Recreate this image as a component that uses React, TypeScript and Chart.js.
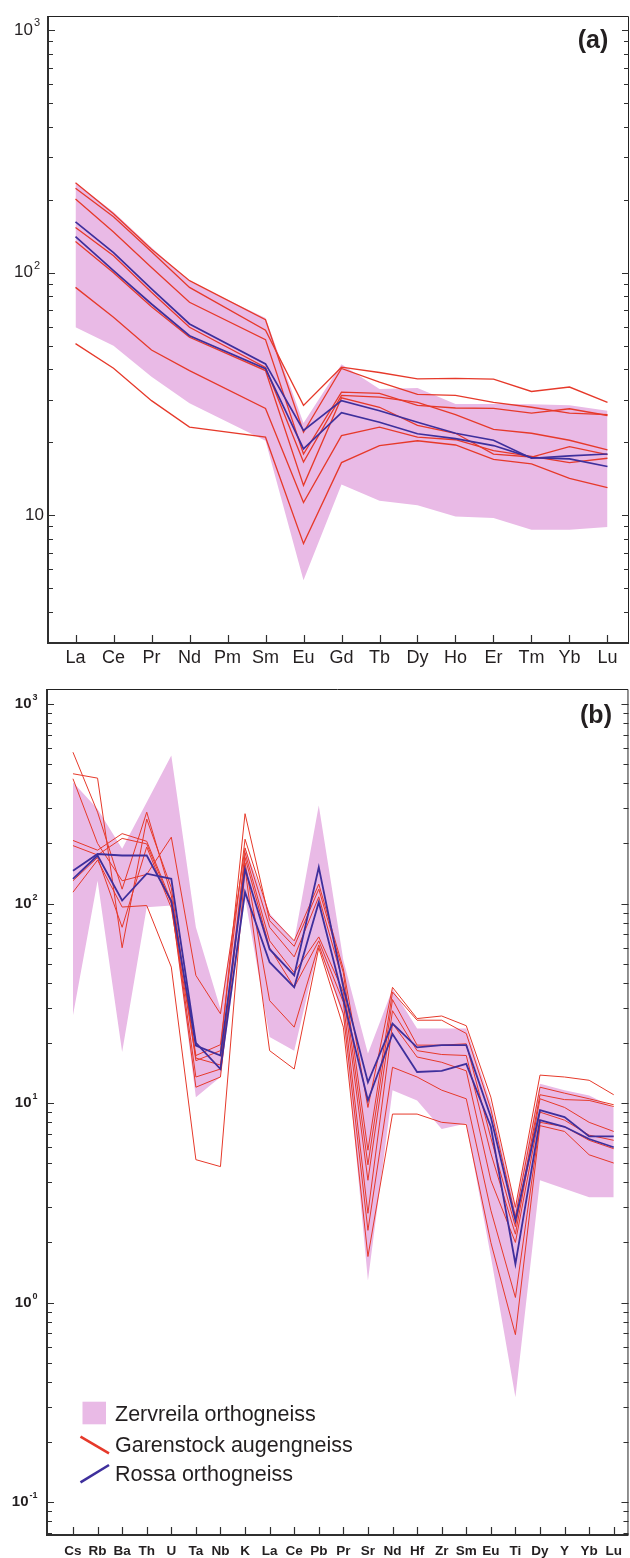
import React, { useEffect, useRef } from 'react';
import { Chart, registerables } from 'chart.js';

Chart.register(...registerables);

// ---------------- Panel (a): chondrite-normalised REE ----------------
const REE_ELEMENTS = ['La', 'Ce', 'Pr', 'Nd', 'Pm', 'Sm', 'Eu', 'Gd', 'Tb', 'Dy', 'Ho', 'Er', 'Tm', 'Yb', 'Lu'];
const REE_ZERVREILA_MAX = [235, 178, 127, 92, null, 65, 24, 42, 33.2, 33.5, 28.8, 28.8, 28.7, 28.4, 27.0];
const REE_ZERVREILA_MIN = [59.6, 50, 37.3, 29, null, 20.3, 5.4, 13.4, 11.5, 11.0, 9.9, 9.75, 8.73, 8.73, 8.95];
const REE_GARENSTOCK_1 = [235, 175, 125, 92.7, null, 64, 22, 40.3, 35.4, 31.5, 31.2, 29.2, 27.9, 26.4, 26.0];
const REE_GARENSTOCK_2 = [223, 170, 122, 87, null, 58, 28.4, 40.8, 38.8, 36.5, 36.7, 36.4, 32.4, 33.8, 29.2];
const REE_GARENSTOCK_3 = [201, 147, 105, 75.5, null, 53, 17.9, 32.2, 31.8, 28.4, 27.7, 27.6, 26.4, 27.5, 25.8];
const REE_GARENSTOCK_4 = [153.6, 117.5, 83, 59.6, null, 40.7, 16.6, 31.2, 30.7, 29.2, 26.0, 22.6, 21.8, 20.4, 18.6];
const REE_GARENSTOCK_5 = [134.5, 100, 72.4, 54.2, null, 39.5, 13.3, 30.5, 27.9, 23.5, 21.8, 17.9, 17.4, 19.2, 17.8];
const REE_GARENSTOCK_6 = [87, 65.5, 48, 39.5, null, 27.6, 11.3, 21.3, 23.1, 21.0, 20.5, 18.5, 17.5, 16.5, 17.2];
const REE_GARENSTOCK_7 = [51, 40.4, 29.7, 23.1, null, 21, 7.65, 16.5, 19.4, 20.3, 19.5, 17.0, 16.3, 14.2, 13.0];
const REE_ROSSA_1 = [162, 121, 85.7, 61.5, null, 42.1, 22.4, 29.7, 27.0, 24.2, 21.8, 20.4, 17.2, 17.6, 17.9];
const REE_ROSSA_2 = [140.7, 102, 74.3, 55, null, 40.2, 18.8, 26.5, 24.2, 21.7, 20.7, 19.4, 17.3, 17.1, 15.9];
const REE_Y_EXPONENTS = [1, 2, 3];

// ---------------- Panel (b): primitive-mantle-normalised spider ----------------
const SPIDER_ELEMENTS = ['Cs', 'Rb', 'Ba', 'Th', 'U', 'Ta', 'Nb', 'K', 'La', 'Ce', 'Pb', 'Pr', 'Sr', 'Nd', 'Hf', 'Zr', 'Sm', 'Eu', 'Ti', 'Dy', 'Y', 'Yb', 'Lu'];
const SPIDER_ZERVREILA_MAX = [405, 298, 188, 322, 552, 76, 29.6, 191, 89, 65, 310, 52, 17.7, 37.3, 23.6, 23.6, 23.6, 10.0, 3.0, 12.5, 11.6, 10.9, 9.5];
const SPIDER_ZERVREILA_MIN = [27.5, 130, 18.0, 95.7, 97.7, 10.7, 13.5, 107, 21.4, 18.3, 61, 27, 1.29, 11.6, 10.3, 7.4, 7.9, 1.7, 0.335, 4.1, 3.72, 3.37, 3.37];
const SPIDER_GARENSTOCK_1 = [573, 287, 118, 287, 110, 17.3, 19.6, 210, 87, 65, 125, 47, 9.5, 38, 26.5, 27.3, 24.4, 10.7, 3.0, 13.8, 13.5, 13.0, 11.0];
const SPIDER_GARENSTOCK_2 = [447, 425, 60, 265, 120, 16.3, 18.3, 282, 82, 61, 118, 45, 5.8, 36, 26, 26, 22.3, 9.3, 2.7, 12.0, 11.2, 10.5, 9.8];
const SPIDER_GARENSTOCK_3 = [422, 200, 130, 140, 215, 43.6, 28, 190, 76, 54, 108, 40, 4.9, 33, 19.5, 19.5, 19.8, 6.7, 2.4, 11.0, 10.4, 10.3, 9.6];
const SPIDER_GARENSTOCK_4 = [207, 185, 224, 205, 103, 13.5, 14.8, 180, 65, 45, 68, 36, 4.1, 29, 18.3, 17.5, 17.3, 5.6, 2.2, 10.5, 9.5, 8.0, 7.2];
const SPIDER_GARENSTOCK_5 = [195, 175, 212, 199, 100, 12.0, 13.5, 170, 60, 38, 65, 32, 2.8, 25, 17, 16, 14.5, 4.1, 2.0, 9.0, 8.2, 6.9, 6.5];
const SPIDER_GARENSTOCK_6 = [130, 170, 76, 192, 95, 16.8, 15.5, 160, 32.6, 24, 62, 28, 2.3, 15.1, 13.5, 11.6, 10.5, 2.9, 1.06, 8.0, 7.6, 6.5, 5.9];
const SPIDER_GARENSTOCK_7 = [114, 165, 96, 97.7, 48, 5.2, 4.8, 150, 18.3, 14.8, 60, 24, 1.7, 8.8, 8.8, 8.0, 7.8, 2.0, 0.69, 7.7, 7.2, 5.5, 5.0];
const SPIDER_ROSSA_1 = [146, 177, 174, 174, 103, 19.4, 17.3, 149, 59, 43.6, 152, 38, 12.7, 25, 19, 19.5, 19.5, 8.5, 2.58, 9.2, 8.5, 6.8, 6.8];
const SPIDER_ROSSA_2 = [133, 174, 103.5, 141, 133, 20, 14.8, 114, 50.8, 38, 101.5, 33, 10.3, 22.2, 14.3, 14.5, 15.7, 7.6, 1.56, 8.2, 7.6, 6.6, 6.0];
const SPIDER_Y_EXPONENTS = [-1, 0, 1, 2, 3];

const LEGEND_LABELS = ['Zervreila orthogneiss', 'Garenstock augengneiss', 'Rossa orthogneiss'];

const PINK = '#E9BAE6';
const RED = '#E6392A';
const BLUE = '#3E2F9C';
const INK = '#231F20';
const FONT = '"Liberation Sans", Arial, Helvetica, sans-serif';

type Val = number | null;

function toPoints(values: Val[]) {
  const pts: { x: number; y: number }[] = [];
  values.forEach((v, i) => {
    if (v !== null && v !== undefined) pts.push({ x: i, y: v });
  });
  return pts;
}

function buildDatasets(envMax: Val[], envMin: Val[], reds: Val[][], blues: Val[][], redW: number, blueW: number) {
  const ds: any[] = [];
  blues.forEach((b) =>
    ds.push({ data: toPoints(b), borderColor: BLUE, borderWidth: blueW, pointRadius: 0, fill: false, tension: 0, order: 0 })
  );
  reds.forEach((r) =>
    ds.push({ data: toPoints(r), borderColor: RED, borderWidth: redW, pointRadius: 0, fill: false, tension: 0, order: 1 })
  );
  ds.push({
    data: toPoints(envMax),
    borderWidth: 0,
    borderColor: 'rgba(0,0,0,0)',
    backgroundColor: PINK,
    fill: '+1',
    pointRadius: 0,
    tension: 0,
    order: 5,
  });
  ds.push({
    data: toPoints(envMin),
    borderWidth: 0,
    borderColor: 'rgba(0,0,0,0)',
    fill: false,
    pointRadius: 0,
    tension: 0,
    order: 5,
  });
  return ds;
}

type PanelCfg = {
  id: string;
  width: number;
  height: number;
  elements: string[];
  datasets: any[];
  xMin: number;
  xMax: number;
  yMin: number;
  yMax: number;
  padTop: number;
  padRight: number;
  yAxisWidth: number;
  xAxisHeight: number;
  xFont: any;
  xPad: number;
  exps: number[];
  plainOne: boolean;
  baseFont: string;
  expFont: string;
  raise: number;
  yLabelRight: number;
  plainRight: number;
  tag: string;
  tagFont: string;
  tagX: number;
  tagY: number;
  legend: boolean;
};

function makePlugin(cfg: PanelCfg) {
  return {
    id: 'frame_' + cfg.id,
    afterDraw(chart: any) {
      const ctx: CanvasRenderingContext2D = chart.ctx;
      const { left, right, top, bottom } = chart.chartArea;
      const xs = chart.scales.x;
      const ys = chart.scales.y;
      ctx.save();
      // frame
      ctx.strokeStyle = '#2f2f2f';
      ctx.lineWidth = 2;
      ctx.beginPath();
      ctx.moveTo(left, top);
      ctx.lineTo(left, bottom);
      ctx.lineTo(right, bottom);
      ctx.stroke();
      ctx.lineWidth = 1;
      ctx.strokeStyle = '#222';
      ctx.beginPath();
      ctx.moveTo(left, top + 0.5);
      ctx.lineTo(right - 0.5, top + 0.5);
      ctx.lineTo(right - 0.5, bottom);
      ctx.stroke();
      // y ticks (inward, both sides)
      ctx.lineWidth = 1.2;
      ctx.strokeStyle = '#2f2f2f';
      ctx.beginPath();
      const lo = Math.floor(Math.log10(ys.min));
      const hi = Math.ceil(Math.log10(ys.max));
      for (let e = lo; e <= hi; e++) {
        for (let k = 1; k <= 9; k++) {
          const v = k * Math.pow(10, e);
          if (v < ys.min || v > ys.max) continue;
          const y = Math.round(ys.getPixelForValue(v)) + 0.5;
          const len = k === 1 ? 7 : 5;
          ctx.moveTo(left, y);
          ctx.lineTo(left + len, y);
          ctx.moveTo(right, y);
          ctx.lineTo(right - len, y);
        }
      }
      ctx.stroke();
      // x ticks (inward)
      ctx.beginPath();
      cfg.elements.forEach((_, i) => {
        const x = Math.round(xs.getPixelForValue(i)) + 0.5;
        ctx.moveTo(x, bottom);
        ctx.lineTo(x, bottom - 8);
      });
      ctx.stroke();
      // y labels 10^n
      ctx.fillStyle = INK;
      ctx.textBaseline = 'middle';
      ctx.textAlign = 'left';
      cfg.exps.forEach((e) => {
        const y = ys.getPixelForValue(Math.pow(10, e));
        const exp = e === 1 && cfg.plainOne ? '' : String(e);
        ctx.font = cfg.expFont;
        const we = exp ? ctx.measureText(exp).width : 0;
        ctx.font = cfg.baseFont;
        const wb = ctx.measureText('10').width;
        const xr = exp ? cfg.yLabelRight : cfg.plainRight;
        ctx.fillText('10', xr - we - wb - (exp ? 1 : 0), y);
        if (exp) {
          ctx.font = cfg.expFont;
          ctx.fillText(exp, xr - we, y - cfg.raise);
        }
      });
      // panel tag
      ctx.font = cfg.tagFont;
      ctx.textAlign = 'center';
      ctx.fillText(cfg.tag, cfg.tagX, cfg.tagY);
      // legend
      if (cfg.legend) {
        ctx.fillStyle = PINK;
        ctx.fillRect(82.5, 731.7, 23.5, 22.6);
        ctx.lineWidth = 2.6;
        ctx.lineCap = 'butt';
        ctx.strokeStyle = RED;
        ctx.beginPath();
        ctx.moveTo(80.5, 766.7);
        ctx.lineTo(109, 783.3);
        ctx.stroke();
        ctx.strokeStyle = BLUE;
        ctx.beginPath();
        ctx.moveTo(80.5, 812.3);
        ctx.lineTo(109, 795);
        ctx.stroke();
        ctx.fillStyle = INK;
        ctx.font = '21.5px ' + FONT;
        ctx.textAlign = 'left';
        ctx.textBaseline = 'alphabetic';
        ctx.fillText(LEGEND_LABELS[0], 115, 750.7);
        ctx.fillText(LEGEND_LABELS[1], 115, 781.7);
        ctx.fillText(LEGEND_LABELS[2], 115, 810.7);
      }
      ctx.restore();
    },
  };
}

function Panel({ cfg, top }: { cfg: PanelCfg; top: number }) {
  const ref = useRef<HTMLCanvasElement | null>(null);
  useEffect(() => {
    if (!ref.current) return;
    const chart = new Chart(ref.current, {
      type: 'line',
      data: { datasets: cfg.datasets },
      options: {
        animation: false,
        responsive: false,
        events: [],
        layout: { padding: { top: cfg.padTop, right: cfg.padRight, left: 0, bottom: 0 } },
        plugins: { legend: { display: false }, tooltip: { enabled: false } },
        scales: {
          x: {
            type: 'linear',
            min: cfg.xMin,
            max: cfg.xMax,
            grid: { display: false, drawTicks: false },
            border: { display: false },
            afterBuildTicks: (scale: any) => {
              scale.ticks = cfg.elements.map((_, i) => ({ value: i }));
            },
            afterFit: (scale: any) => {
              scale.height = cfg.xAxisHeight;
            },
            ticks: {
              autoSkip: false,
              maxRotation: 0,
              minRotation: 0,
              padding: cfg.xPad,
              color: INK,
              font: cfg.xFont,
              callback: (v: any) => (Number.isInteger(v) ? cfg.elements[v] ?? '' : ''),
            },
          },
          y: {
            type: 'logarithmic',
            min: cfg.yMin,
            max: cfg.yMax,
            grid: { display: false, drawTicks: false },
            border: { display: false },
            ticks: { display: false },
            afterFit: (scale: any) => {
              scale.width = cfg.yAxisWidth;
            },
          },
        },
      } as any,
      plugins: [makePlugin(cfg)],
    });
    return () => chart.destroy();
  }, [cfg]);
  return (
    <canvas
      ref={ref}
      width={cfg.width}
      height={cfg.height}
      style={{ position: 'absolute', left: 0, top, width: cfg.width, height: cfg.height, display: 'block' }}
    />
  );
}

const panelA: PanelCfg = {
  id: 'a',
  width: 630,
  height: 670,
  elements: REE_ELEMENTS,
  datasets: buildDatasets(
    REE_ZERVREILA_MAX,
    REE_ZERVREILA_MIN,
    [REE_GARENSTOCK_1, REE_GARENSTOCK_2, REE_GARENSTOCK_3, REE_GARENSTOCK_4, REE_GARENSTOCK_5, REE_GARENSTOCK_6, REE_GARENSTOCK_7],
    [REE_ROSSA_1, REE_ROSSA_2],
    1.3,
    1.7
  ),
  xMin: -0.724,
  xMax: 14.566,
  yMin: 2.98,
  yMax: 1142,
  padTop: 16,
  padRight: 1,
  yAxisWidth: 48,
  xAxisHeight: 27,
  xFont: { family: FONT, size: 18 },
  xPad: 4,
  exps: REE_Y_EXPONENTS,
  plainOne: true,
  baseFont: '17px ' + FONT,
  expFont: '11px ' + FONT,
  raise: 7,
  yLabelRight: 40,
  plainRight: 44,
  tag: '(a)',
  tagFont: 'bold 25px ' + FONT,
  tagX: 593,
  tagY: 41,
  legend: false,
};

const panelB: PanelCfg = {
  id: 'b',
  width: 630,
  height: 888,
  elements: SPIDER_ELEMENTS,
  datasets: buildDatasets(
    SPIDER_ZERVREILA_MAX,
    SPIDER_ZERVREILA_MIN,
    [SPIDER_GARENSTOCK_1, SPIDER_GARENSTOCK_2, SPIDER_GARENSTOCK_3, SPIDER_GARENSTOCK_4, SPIDER_GARENSTOCK_5, SPIDER_GARENSTOCK_6, SPIDER_GARENSTOCK_7],
    [SPIDER_ROSSA_1, SPIDER_ROSSA_2],
    1.0,
    1.8
  ),
  xMin: -1.057,
  xMax: 22.6,
  yMin: 0.06833,
  yMax: 1189,
  padTop: 19,
  padRight: 1,
  yAxisWidth: 47,
  xAxisHeight: 23,
  xFont: { family: FONT, size: 13.5, weight: 'bold' },
  xPad: 8,
  exps: SPIDER_Y_EXPONENTS,
  plainOne: false,
  baseFont: 'bold 15px ' + FONT,
  expFont: 'bold 9px ' + FONT,
  raise: 6,
  yLabelRight: 37.5,
  plainRight: 37.5,
  tag: '(b)',
  tagFont: 'bold 25px ' + FONT,
  tagX: 596,
  tagY: 46,
  legend: true,
};

export default function App() {
  return (
    <div style={{ position: 'absolute', left: 0, top: 0, width: 630, height: 1558, background: '#ffffff', overflow: 'hidden' }}>
      <Panel cfg={panelA} top={0} />
      <Panel cfg={panelB} top={670} />
    </div>
  );
}
